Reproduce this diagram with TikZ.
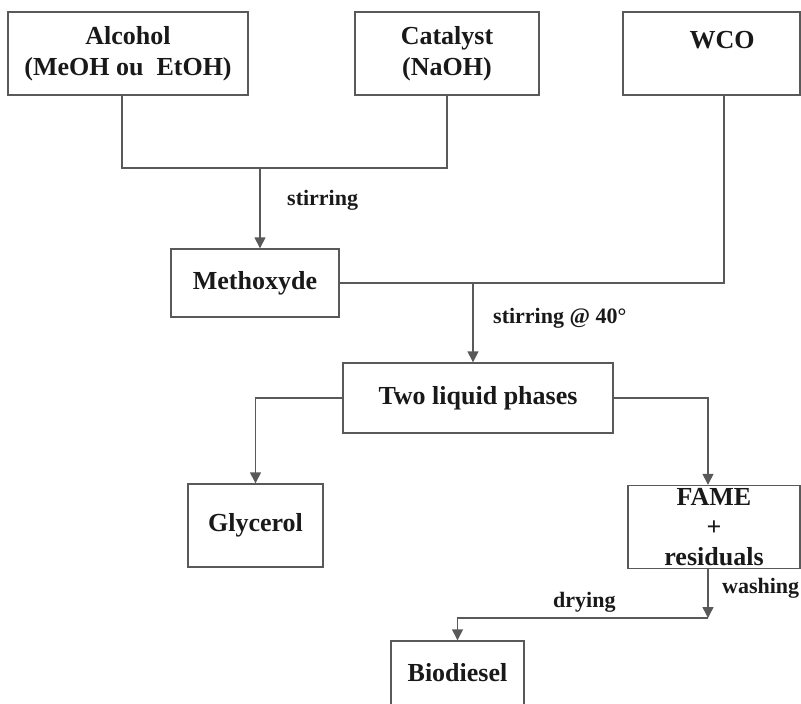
\documentclass[tikz,border=0pt]{standalone}
\usepackage{fontspec}
\setmainfont{Liberation Serif}
\usetikzlibrary{arrows.meta}

\begin{document}
\begin{tikzpicture}[x=1pt,y=-1pt]

    \tikzset{
      BoxStyle/.style = { rectangle, draw = black!65, line width = 1.4pt,
                          align = center, text = black!90,
                          font = \fontsize{26}{31}\selectfont\bfseries },
      LabelStyle/.style = { anchor = west, inner sep = 0pt, text = black!90,
                          font = \fontsize{22}{26}\selectfont\bfseries },
      LineStyle/.style = { draw = black!65, line width = 1.4pt },
      EdgeStyle/.style = { LineStyle, -{Triangle[length=11pt,width=11pt]} } }
      \useasboundingbox (0,0) rectangle (801,704);

      \node[BoxStyle, minimum width=240, minimum height=83] (alcohol) at (128,53.5) {Alcohol\\(MeOH ou~ EtOH)};
      \node[BoxStyle, minimum width=184, minimum height=83] (catalyst) at (447,53.5) {Catalyst\\(NaOH)};
      \node[BoxStyle, minimum width=177, minimum height=83] (wco) at (711.5,53.5) {};
      \node[BoxStyle, draw=none] (wcotext) at (722,40) {WCO};

      \node[BoxStyle, minimum width=168, minimum height=68] (methoxyde) at (255,283) {Methoxyde};
      \node[BoxStyle, minimum width=270, minimum height=70] (phases) at (478,398) {Two liquid phases};
      \node[BoxStyle, minimum width=135, minimum height=83] (glycerol) at (255.5,525.5) {Glycerol};
      \node[BoxStyle, minimum width=172, minimum height=83, inner sep=1pt,
            font=\fontsize{26}{30}\selectfont\bfseries] (fame) at (714,527) {FAME\\+\\residuals};
      \node[BoxStyle, minimum width=133, minimum height=64] (biodiesel) at (457.5,673) {Biodiesel};

      \coordinate (mix) at (260,168);
      \coordinate (feed) at (473,283);
      \coordinate (wash) at (708,618);

      \draw[LineStyle] ([xshift=-6]alcohol.south) |- (mix) -| (catalyst.south);
      \draw[EdgeStyle] (mix) -- (mix |- methoxyde.north);
      \draw[LineStyle] ([xshift=12.5]wco.south) |- (methoxyde.east);
      \draw[EdgeStyle] (feed) -- (feed |- phases.north);
      \draw[EdgeStyle] (phases.west) -| (glycerol.north);
      \draw[EdgeStyle] (phases.east) -| ([xshift=-6]fame.north);
      \draw[EdgeStyle] ([xshift=-6]fame.south) -- (wash);
      \draw[EdgeStyle] (wash) -| (biodiesel.north);

      \node[LabelStyle] (stir) at (287,200) {stirring};
      \node[LabelStyle] (stirheat) at (493,318) {stirring @ 40°};
      \node[LabelStyle] (washing) at (722,588) {washing};
      \node[LabelStyle] (drying) at (553,602) {drying};
\end{tikzpicture}
\end{document}
